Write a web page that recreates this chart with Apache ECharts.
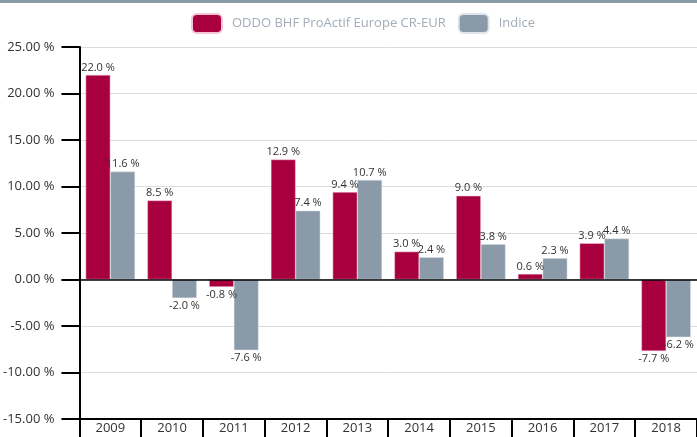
<!DOCTYPE html>
<html>
<head>
<meta charset="utf-8">
<script src="https://cdn.jsdelivr.net/npm/echarts@6/dist/echarts.min.js"></script>
<style>
  html, body { margin: 0; padding: 0; background: #fff; }
  #box1 { width: 697px; height: 437px; }
</style>
</head>
<body>
<div id="box1"></div>
<script>
var years = ['2009', '2010', '2011', '2012', '2013', '2014', '2015', '2016', '2017', '2018'];
var fundName = 'ODDO BHF ProActif Europe CR-EUR';
var indexName = 'Indice';
var fundValues = [22.0, 8.5, -0.8, 12.9, 9.4, 3.0, 9.0, 0.6, 3.9, -7.7];
var indexValues = [11.6, -2.0, -7.6, 7.4, 10.7, 2.4, 3.8, 2.3, 4.4, -6.2];
var yMin = -15, yMax = 25, yStep = 5;

var FONT = '"Open Sans", "Noto Sans", sans-serif';

// label au-dessus pour les valeurs positives, en dessous pour les négatives
function toBars(values) {
  return values.map(function (v) {
    return { value: v, label: { position: v < 0 ? 'bottom' : 'top' } };
  });
}

var myChart = echarts.init(document.getElementById('box1'));
var option = {
  animation: false,
  graphic: [{
    type: 'rect',
    left: 0, top: 0,
    shape: { width: 697, height: 3 },
    style: { fill: '#8a9ba8' }
  }],
  legend: {
    top: 8,
    left: 186,
    itemWidth: 30,
    itemHeight: 19,
    itemGap: 12,
    icon: 'roundRect',
    textStyle: { color: '#a3adb7', fontSize: 13, fontFamily: FONT, padding: [0, 0, 0, 5] },
    data: [fundName, indexName]
  },
  grid: { left: 77, right: -8, top: 47, bottom: 18 },
  xAxis: {
    type: 'category',
    data: years,
    axisLine: { onZero: false, lineStyle: { color: '#000', width: 2 } },
    axisTick: { show: true, length: 18, lineStyle: { color: '#000', width: 2 } },
    axisLabel: { color: '#333', fontSize: 13, fontFamily: FONT, margin: 3 }
  },
  yAxis: {
    type: 'value',
    min: yMin,
    max: yMax,
    interval: yStep,
    axisLine: { show: true, lineStyle: { color: '#000', width: 2 } },
    axisTick: { show: true, length: 18, lineStyle: { color: '#000', width: 2 } },
    axisLabel: {
      color: '#333', fontSize: 13, fontFamily: FONT, margin: 25,
      formatter: function (v) { return v.toFixed(2) + ' %'; }
    },
    splitLine: { lineStyle: { color: '#dcdcdc', width: 1 } }
  },
  series: [{
    name: fundName,
    type: 'bar',
    barGap: 0,
    barCategoryGap: '20%',
    itemStyle: { color: '#a8003f', borderColor: '#f3c6d6', borderWidth: 0.5 },
    label: {
      show: true, color: '#333', fontSize: 11, fontFamily: FONT, distance: 2,
      formatter: function (p) { return p.value.toFixed(1) + ' %'; }
    },
    markLine: {
      silent: true,
      symbol: 'none',
      label: { show: false },
      lineStyle: { color: '#000', width: 1.5, type: 'solid' },
      data: [{ yAxis: 0 }]
    },
    data: toBars(fundValues)
  }, {
    name: indexName,
    type: 'bar',
    itemStyle: { color: '#8a9aa8', borderColor: '#dfe5ea', borderWidth: 0.5 },
    label: {
      show: true, color: '#333', fontSize: 11, fontFamily: FONT, distance: 2,
      formatter: function (p) { return p.value.toFixed(1) + ' %'; }
    },
    data: toBars(indexValues)
  }]
};
myChart.setOption(option);
</script>
</body>
</html>
